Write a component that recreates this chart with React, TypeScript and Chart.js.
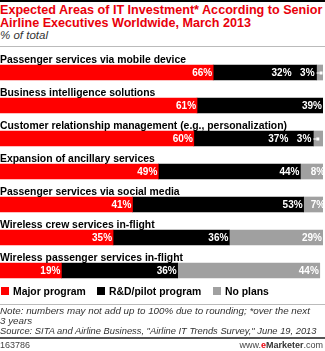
import React, { useEffect, useRef } from "react";
import { Chart, registerables } from "chart.js";

Chart.register(...registerables);

const categories = [
  "Passenger services via mobile device",
  "Business intelligence solutions",
  "Customer relationship management (e.g., personalization)",
  "Expansion of ancillary services",
  "Passenger services via social media",
  "Wireless crew services in-flight",
  "Wireless passenger services in-flight",
];
const seriesNames = ["Major program", "R&D/pilot program", "No plans"];
const majorProgram = [66, 61, 60, 49, 41, 35, 19];
const rdPilot = [32, 39, 37, 44, 53, 36, 36];
const noPlans = [3, 0, 3, 8, 7, 29, 44];
const seriesColors = ["#ff0000", "#000000", "#a0a0a0"];

const FONT = "'Liberation Sans', Arial, sans-serif";

const labelsPlugin = {
  id: "customLabels",
  afterDatasetsDraw(chart: any) {
    const ctx = chart.ctx;
    ctx.save();
    const meta0 = chart.getDatasetMeta(0);
    ctx.fillStyle = "#000";
    ctx.font = `bold 10.4px ${FONT}`;
    ctx.textAlign = "left";
    ctx.textBaseline = "alphabetic";
    meta0.data.forEach((el: any, i: number) => {
      ctx.fillText(categories[i], 0, el.y - 10);
    });
    ctx.font = `bold 10px ${FONT}`;
    ctx.textBaseline = "middle";
    ctx.textAlign = "right";
    const sets = chart.data.datasets;
    sets.forEach((ds: any, di: number) => {
      const meta = chart.getDatasetMeta(di);
      meta.data.forEach((el: any, i: number) => {
        const v = ds.data[i];
        if (!v) return;
        const start = Math.min(el.x, el.base);
        const end = Math.max(el.x, el.base);
        ctx.fillStyle = "#fff";
        if (v < 5) {
          ctx.fillText(v + "%", start - 2, el.y + 0.5);
          ctx.fillRect(start + 3, el.y - 1, 3, 3);
          ctx.fillRect(start, el.y, 3, 1);
        } else {
          const next = sets[di + 1] ? sets[di + 1].data[i] : 0;
          const shift = next && next < 5 ? 25 : 1;
          ctx.fillText(v + "%", end - shift, el.y + 0.5);
        }
      });
    });
    ctx.restore();
  },
};

function App() {
  const ref = useRef<HTMLCanvasElement | null>(null);
  useEffect(() => {
    if (!ref.current) return;
    const chart = new Chart(ref.current, {
      type: "bar",
      data: {
        labels: categories,
        datasets: [majorProgram, rdPilot, noPlans].map((d, i) => ({
          label: seriesNames[i],
          data: d,
          backgroundColor: seriesColors[i],
          borderWidth: 0,
          barThickness: 15,
        })),
      },
      options: {
        indexAxis: "y",
        responsive: false,
        animation: false,
        layout: { padding: { top: 56, bottom: 64, left: 0, right: 2 } },
        plugins: { legend: { display: false }, tooltip: { enabled: false } },
        scales: {
          x: { stacked: true, min: 0, max: 100, display: false },
          y: { stacked: true, display: false },
        },
      },
      plugins: [labelsPlugin],
    });
    return () => chart.destroy();
  }, []);

  const legendItem = (i: number, left: number) => (
    <div
      style={{
        position: "absolute",
        left,
        top: 285,
        height: 12,
        display: "flex",
        alignItems: "center",
        font: `bold 10.4px ${FONT}`,
        color: "#000",
        whiteSpace: "nowrap",
      }}
    >
      <span
        style={{
          display: "inline-block",
          width: 8,
          height: 8,
          background: seriesColors[i],
          marginRight: 4,
        }}
      />
      {seriesNames[i]}
    </div>
  );

  const noteLine = (text: string, top: number, size: number) => (
    <div
      style={{
        position: "absolute",
        left: 0,
        top,
        font: `italic ${size}px/10px ${FONT}`,
        color: "#333",
        whiteSpace: "nowrap",
      }}
    >
      {text}
    </div>
  );

  return (
    <div
      style={{
        position: "absolute",
        left: 0,
        top: 0,
        width: 325,
        height: 351,
        background: "#fff",
        overflow: "hidden",
        fontFamily: FONT,
      }}
    >
      <div style={{ position: "absolute", left: 0, top: 0, width: 325, height: 2, background: "#000" }} />
      <div
        style={{
          position: "absolute",
          left: 0,
          top: 4,
          width: 330,
          font: `bold 12.6px/12.5px ${FONT}`,
          color: "#e8000b",
          whiteSpace: "nowrap",
        }}
      >
        Expected Areas of IT Investment* According to Senior
        <br />
        Airline Executives Worldwide, March 2013
      </div>
      <div
        style={{
          position: "absolute",
          left: 0,
          top: 29,
          font: `italic 11.5px/13px ${FONT}`,
          color: "#333",
          whiteSpace: "nowrap",
        }}
      >
        % of total
      </div>
      <div style={{ position: "absolute", left: 0, top: 46, width: 325, height: 1, background: "#bbb" }} />
      <canvas ref={ref} width={325} height={351} style={{ position: "absolute", left: 0, top: 0 }} />
      {legendItem(0, 1)}
      {legendItem(1, 97)}
      {legendItem(2, 213)}
      <div style={{ position: "absolute", left: 0, top: 304, width: 325, height: 1, background: "#bbb" }} />
      {noteLine("Note: numbers may not add up to 100% due to rounding; *over the next", 306, 9.8)}
      {noteLine("3 years", 316, 9.8)}
      {noteLine('Source: SITA and Airline Business, "Airline IT Trends Survey," June 19, 2013', 326, 9.35)}
      <div style={{ position: "absolute", left: 0, top: 337, width: 325, height: 2, background: "#555" }} />
      <div
        style={{
          position: "absolute",
          left: 0,
          top: 340,
          font: `9px/11px ${FONT}`,
          color: "#444",
        }}
      >
        163786
      </div>
      <div
        style={{
          position: "absolute",
          right: 2,
          top: 340,
          font: `9px/11px ${FONT}`,
          color: "#444",
        }}
      >
        www.<span style={{ color: "#e8000b", fontWeight: "bold" }}>e</span>
        <span style={{ fontWeight: "bold", color: "#333" }}>Marketer</span>.com
      </div>
    </div>
  );
}

export default App;
